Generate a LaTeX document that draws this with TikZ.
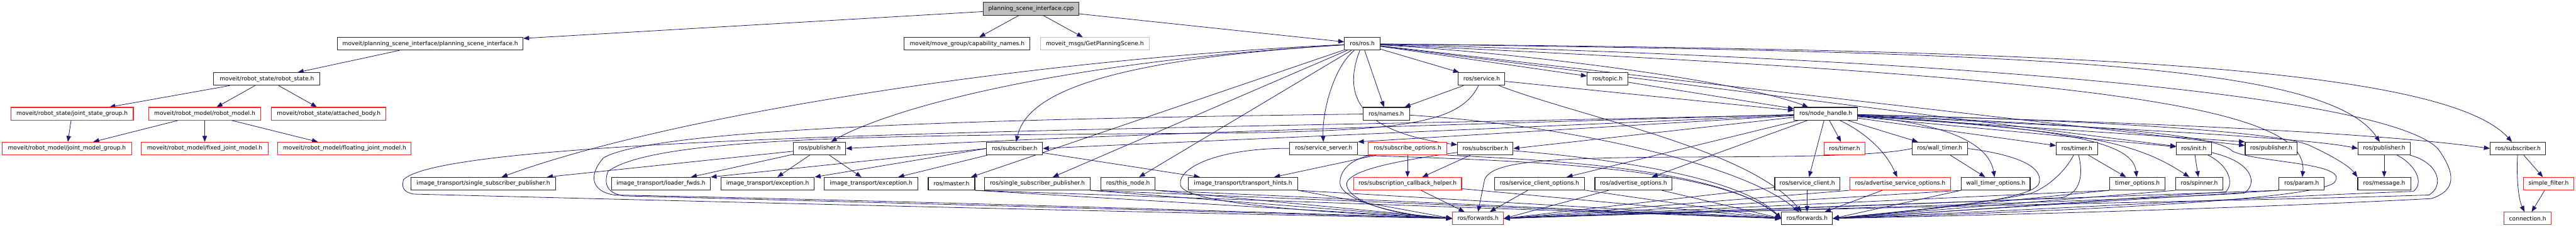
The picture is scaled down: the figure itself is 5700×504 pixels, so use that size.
\documentclass[tikz,border=0pt]{standalone}
\usepackage{fontspec}
\newfontfamily\dvsans{DejaVu Sans}
\usetikzlibrary{arrows.meta}
\pgfdeclarelayer{back}
\pgfdeclarelayer{edges}
\pgfsetlayers{back,edges,main}
\definecolor{edgeblue}{HTML}{191970}
\definecolor{boxred}{HTML}{FF2020}
\definecolor{boxgrey}{HTML}{BFBFBF}
\newcommand\mknode[6]{%
  \pgfmathsetmacro\ndcx{(#3+#4)/2}%
  \pgfmathsetmacro\ndw{#4-#3}%
  \node[#1,minimum width=\ndw pt] (#2) at (\ndcx,#5) {#6};}
\begin{document}
\begin{tikzpicture}[x=1pt,y=-1pt,
  box/.style={draw=black!85, line width=1.5pt, fill=white, minimum height=28pt, inner sep=0pt,
              font=\dvsans\fontsize{12.7}{15}\selectfont, text=black},
  redbox/.style={box, draw=boxred},
  greybox/.style={box, draw=boxgrey},
  rootbox/.style={box, fill=boxgrey},
  e/.style={draw=edgeblue, line width=1.1pt, -{Triangle[length=13pt,width=10pt]}}]
\begin{pgfonlayer}{back}
\fill[white] (0,0) rectangle (5700,504);
\end{pgfonlayer}
\useasboundingbox (0,0) rectangle (5700,504);
% row 0
\mknode{rootbox}{cpp}{2176}{2387}{19.5}{planning\_scene\_interface.cpp}
% row 1
\mknode{box}{psih}{747}{1157}{97}{moveit/planning\_scene\_interface/planning\_scene\_interface.h}
\mknode{box}{capn}{2001}{2279}{97}{moveit/move\_group/capability\_names.h}
\mknode{greybox}{gps}{2302}{2543}{97}{moveit\_msgs/GetPlanningScene.h}
\mknode{box}{rosh}{2975}{3054}{97}{ros/ros.h}
% row 2
\mknode{box}{rstate}{473}{708}{175}{moveit/robot\_state/robot\_state.h}
\mknode{box}{service}{3227}{3330}{175}{ros/service.h}
\mknode{box}{topic}{3512}{3602}{175}{ros/topic.h}
% row 3
\mknode{redbox}{jsg}{24}{295}{252}{moveit/robot\_state/joint\_state\_group.h}
\mknode{redbox}{rmodel}{329}{577}{252}{moveit/robot\_model/robot\_model.h}
\mknode{redbox}{abody}{601}{854}{252}{moveit/robot\_state/attached\_body.h}
\mknode{box}{names}{3016}{3119}{252}{ros/names.h}
\mknode{box}{nh}{3970}{4110}{252}{ros/node\_handle.h}
% row 4
\mknode{redbox}{jmg}{5}{291}{329}{moveit/robot\_model/joint\_model\_group.h}
\mknode{redbox}{fjm}{313}{593}{329}{moveit/robot\_model/fixed\_joint\_model.h}
\mknode{redbox}{flm}{615}{910}{329}{moveit/robot\_model/floating\_joint\_model.h}
\mknode{box}{pub1}{1756}{1871}{329}{ros/publisher.h}
\mknode{box}{sub1}{2183}{2307}{329}{ros/subscriber.h}
\mknode{box}{ssrv}{2854}{3004}{329}{ros/service\_server.h}
\mknode{redbox}{subopt}{3028}{3201}{329}{ros/subscribe\_options.h}
\mknode{box}{sub2}{3225}{3348}{329}{ros/subscriber.h}
\mknode{redbox}{timerR}{4036}{4127}{329}{ros/timer.h}
\mknode{box}{wtimer}{4231}{4353}{329}{ros/wall\_timer.h}
\mknode{box}{timerB}{4550}{4641}{329}{ros/timer.h}
\mknode{box}{init}{4816}{4893}{329}{ros/init.h}
\mknode{box}{pub2}{4968}{5083}{329}{ros/publisher.h}
\mknode{box}{pub3}{5218}{5333}{329}{ros/publisher.h}
\mknode{box}{sub3}{5510}{5633}{329}{ros/subscriber.h}
% row 5
\mknode{box}{itssp}{910}{1229}{407}{image\_transport/single\_subscriber\_publisher.h}
\mknode{box}{lfwd}{1353}{1572}{407}{image\_transport/loader\_fwds.h}
\mknode{box}{exc1}{1595}{1802}{407}{image\_transport/exception.h}
\mknode{box}{exc2}{1824}{2031}{407}{image\_transport/exception.h}
\mknode{box}{master}{2054}{2157}{407}{ros/master.h}
\mknode{box}{rssp}{2179}{2412}{407}{ros/single\_subscriber\_publisher.h}
\mknode{box}{thisn}{2436}{2556}{407}{ros/this\_node.h}
\mknode{box}{thint}{2630}{2871}{407}{image\_transport/transport\_hints.h}
\mknode{redbox}{sch}{2995}{3234}{407}{ros/subscription\_callback\_helper.h}
\mknode{box}{sco}{3307}{3506}{407}{ros/service\_client\_options.h}
\mknode{box}{adopt}{3529}{3700}{407}{ros/advertise\_options.h}
\mknode{box}{sclient}{3927}{4071}{407}{ros/service\_client.h}
\mknode{redbox}{asopt}{4093}{4316}{407}{ros/advertise\_service\_options.h}
\mknode{box}{wtopt}{4340}{4492}{407}{wall\_timer\_options.h}
\mknode{box}{topt}{4668}{4791}{407}{timer\_options.h}
\mknode{box}{spinner}{4814}{4919}{407}{ros/spinner.h}
\mknode{box}{param}{5043}{5143}{407}{ros/param.h}
\mknode{box}{msg}{5217}{5334}{407}{ros/message.h}
\mknode{redbox}{sfilter}{5584}{5695}{407}{simple\_filter.h}
% row 6
\mknode{redbox}{fwdR}{3214}{3327}{484}{ros/forwards.h}
\mknode{box}{fwdB}{3942}{4055}{484}{ros/forwards.h}
\mknode{redbox}{conn}{5541}{5645}{484}{connection.h}

\begin{pgfonlayer}{edges}
% moveit part
\draw[e] (cpp) -- (psih);
\draw[e] (cpp) -- (capn);
\draw[e] (cpp) -- (gps);
\draw[e] (cpp) -- (rosh);
\draw[e] (psih) -- (rstate);
\draw[e] (rstate) -- (jsg);
\draw[e] (rstate) -- (rmodel);
\draw[e] (rstate) -- (abody);
\draw[e] (jsg) -- (jmg);
\draw[e] (rmodel) -- (jmg);
\draw[e] (rmodel) -- (fjm);
\draw[e] (rmodel) -- (flm);
% ros.h
\draw[e] (rosh) .. controls (2300,130) and (1500,250) .. (itssp);
\draw[e] (rosh) .. controls (2300,140) and (1950,250) .. (pub1);
\draw[e] (rosh) .. controls (2400,135) and (2270,220) .. (sub1);
\draw[e] (rosh) -- (master);
\draw[e] (rosh) -- (rssp);
\draw[e] (rosh) -- (thisn);
\draw[e] (rosh) .. controls (2950,150) and (2925,250) .. (ssrv);
\draw[e] (rosh) .. controls (2975,200) and (2990,290) .. (sub2);
\draw[e] (rosh) -- (names);
\draw[e] (rosh) -- (service);
\draw[e] (rosh) -- (topic);
\draw[e] (rosh) .. controls (3400,120) and (3850,180) .. (nh);
\draw[e] (rosh) -- (init);
\draw[e] (rosh) -- (pub2);
\draw[e] (rosh) .. controls (4500,115) and (5150,140) .. (pub3);
\draw[e] (rosh) .. controls (4500,110) and (5400,140) .. (sub3);
\draw[e] (rosh) .. controls (4600,170) and (5110,230) .. (param);
\draw[e] (rosh) .. controls (4600,140) and (5300,230) .. (5395,330) .. controls (5430,380) and (5440,420) .. (5380,440) .. controls (5000,460) and (4500,475) .. (fwdB.east);
% service, topic, names
\draw[e] (service) -- (names);
\draw[e] (service) -- (nh);
\draw[e] (topic) -- (nh);
\draw[e] (service) .. controls (3230,275) and (3100,290) .. (2700,295) .. controls (2000,300) and (1450,300) .. (1345,380) .. controls (1335,410) and (1345,428) .. (1380,434) .. controls (2000,450) and (2800,472) .. (fwdR.west);
\draw[e] (service) .. controls (3500,260) and (3870,330) .. (fwdB);
\draw[e] (names) .. controls (2300,262) and (1450,280) .. (1335,350) .. controls (1300,390) and (1310,425) .. (1360,432) .. controls (2000,445) and (2800,470) .. (fwdR.west);
\draw[e] (names) .. controls (3450,275) and (3850,360) .. (fwdB);
% node_handle
\draw[e] (nh) .. controls (3000,282) and (2400,300) .. (pub1.east);
\draw[e] (nh) .. controls (3300,285) and (2600,315) .. (sub1.east);
\draw[e] (nh) -- (ssrv.north east);
\draw[e] (nh) -- (sub2.east);
\draw[e] (nh) -- (sco);
\draw[e] (nh) -- (adopt);
\draw[e] (nh) -- (sclient);
\draw[e] (nh) -- (timerR);
\draw[e] (nh) .. controls (4120,290) and (4170,330) .. (asopt);
\draw[e] (nh) -- (wtimer);
\draw[e] (nh) -- (timerB);
\draw[e] (nh) .. controls (4300,272) and (4400,315) .. (wtopt);
\draw[e] (nh) .. controls (4600,285) and (4720,320) .. (topt);
\draw[e] (nh) -- (init);
\draw[e] (nh) .. controls (4600,290) and (4720,310) .. (spinner);
\draw[e] (nh) -- (pub2.north west);
\draw[e] (nh) .. controls (4700,285) and (5100,305) .. (pub3.west);
\draw[e] (nh) .. controls (4900,275) and (5300,300) .. (sub3.west);
\draw[e] (nh) .. controls (4700,268) and (5050,295) .. (5110,322) .. controls (5170,350) and (5200,370) .. (msg.north west);
\draw[e] (nh) .. controls (4600,275) and (4900,295) .. (4940,335) .. controls (4990,360) and (5190,360) .. (5168,400) .. controls (5160,445) and (4500,470) .. (fwdB.east);
\draw[e] (nh) .. controls (2800,285) and (1000,290) .. (893,398) .. controls (888,415) and (892,425) .. (915,430) .. controls (1500,445) and (2500,470) .. (fwdR.west);
% image_transport cluster
\draw[e] (pub1) -- (itssp);
\draw[e] (pub1) -- (lfwd);
\draw[e] (pub1) -- (exc1);
\draw[e] (pub1) -- (exc2);
\draw[e] (sub1.west) -- (lfwd.north east);
\draw[e] (sub1.west) -- (exc1.north east);
\draw[e] (sub1) -- (exc2);
\draw[e] (sub1) -- (thint);
% row 4 middle
\draw[e] (ssrv) .. controls (2700,328) and (2605,370) .. (2612,410) .. controls (2620,450) and (2900,470) .. (fwdR.west);
\draw[e] (ssrv.south east) .. controls (3300,355) and (3800,362) .. (fwdB.west);
\draw[e] (subopt) -- (sch);
\draw[e] (subopt) -- (thint);
\draw[e] (subopt) .. controls (3000,350) and (2965,370) .. (2965,405) .. controls (2965,445) and (3100,478) .. (fwdR.west);
\draw[e] (subopt.south east) .. controls (3350,352) and (3800,365) .. (fwdB.west);
\draw[e] (sub2) -- (sch);
\draw[e] (sub2) .. controls (3100,355) and (2990,375) .. (2980,405) .. controls (2975,448) and (3100,480) .. (fwdR.west);
\draw[e] (sub2) .. controls (3550,350) and (3850,390) .. (fwdB.west);
% row 5 to forwards
\draw[e] (sch) -- (fwdR);
\draw[e] (sch) -- (fwdB.west);
\draw[e] (master.south east) -- (fwdR.west);
\draw[e] (master.south east) -- (fwdB.west);
\draw[e] (rssp.south east) -- (fwdR.west);
\draw[e] (rssp.south east) -- (fwdB.west);
\draw[e] (thisn.south east) -- (fwdR.west);
\draw[e] (thisn.south east) -- (fwdB.west);
\draw[e] (thint.south east) -- (fwdR.west);
\draw[e] (thint.south east) -- (fwdB.west);
\draw[e] (sco) -- (fwdR);
\draw[e] (sco) -- (fwdB.west);
\draw[e] (adopt) -- (fwdR.east);
\draw[e] (adopt) -- (fwdB.west);
\draw[e] (sclient) -- (fwdR.east);
\draw[e] (sclient) -- (fwdB);
\draw[e] (asopt.south west) -- (fwdR.east);
\draw[e] (asopt) -- (fwdB);
% timers
\draw[e] (wtimer) -- (wtopt);
\draw[e] (wtimer.west) .. controls (4150,348) and (3900,347) .. (3700,348) .. controls (3400,350) and (3300,360) .. (3285,398) -- (fwdR.north);
\draw[e] (wtimer.east) .. controls (4480,345) and (4520,375) .. (4512,405) .. controls (4505,440) and (4300,462) .. (fwdB.east);
\draw[e] (timerB) -- (topt);
\draw[e] (timerB) .. controls (4570,380) and (4530,415) .. (4495,428) .. controls (4400,450) and (4200,470) .. (fwdB.east);
\draw[e] (timerB) .. controls (4610,385) and (4605,430) .. (4560,438) .. controls (4200,455) and (3700,470) .. (fwdR.east);
\draw[e] (wtopt.south west) -- (fwdR.east);
\draw[e] (wtopt.south west) -- (fwdB.east);
\draw[e] (topt.south west) -- (fwdR.east);
\draw[e] (topt.south west) -- (fwdB.east);
% init, spinner, param
\draw[e] (init) -- (spinner);
\draw[e] (init) .. controls (4930,365) and (4945,405) .. (4925,425) .. controls (4700,440) and (4300,470) .. (fwdB.east);
\draw[e] (init) .. controls (4990,360) and (4995,410) .. (4965,428) .. controls (4600,450) and (3800,468) .. (fwdR.east);
\draw[e] (spinner.south west) -- (fwdB.east);
\draw[e] (param.south west) -- (fwdB.east);
\draw[e] (param.south west) -- (fwdR.east);
% publishers, subscribers on the right
\draw[e] (pub3) -- (msg);
\draw[e] (pub3) .. controls (5345,365) and (5365,405) .. (5340,424) .. controls (5100,432) and (4400,470) .. (fwdB.east);
\draw[e] (pub3) .. controls (5395,360) and (5410,410) .. (5375,432) .. controls (5000,445) and (3800,465) .. (fwdR.east);
\draw[e] (sub3) -- (sfilter);
\draw[e] (sub3) .. controls (5568,390) and (5572,440) .. (conn);
\draw[e] (sfilter) -- (conn);
\end{pgfonlayer}
\end{tikzpicture}
\end{document}
